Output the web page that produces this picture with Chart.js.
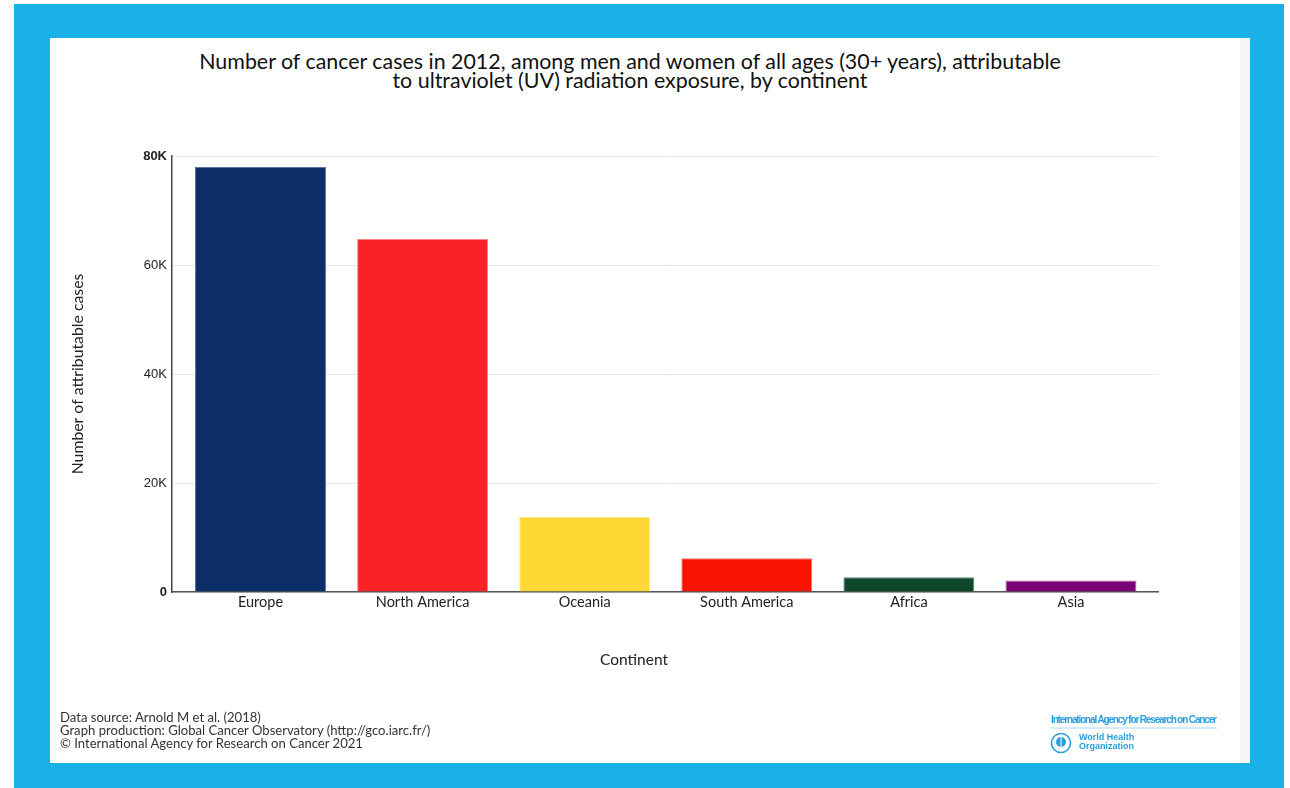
<!DOCTYPE html>
<html>
<head>
<meta charset="utf-8">
<script src="https://cdn.jsdelivr.net/npm/chart.js@4.4.0/dist/chart.umd.min.js"></script>
<style>
  body { margin: 0; width: 1290px; height: 788px; background: #fff; position: relative; overflow: hidden; font-family: Lato, "Noto Sans", sans-serif; color: #222; }
  #frame { position: absolute; left: 14px; top: 4px; width: 1270px; height: 784px; background: #19b1e6; }
  #panel { position: absolute; left: 50px; top: 38px; width: 1190px; height: 725px; background: #fff; }
  #strip { position: absolute; left: 1240px; top: 38px; width: 10px; height: 725px; background: #f5f6f8; }
  #title { position: absolute; left: 50px; top: 52px; width: 1160px; text-align: center; font-size: 21.4px; line-height: 19px; color: #111; }
  #chartBox { position: absolute; left: 50px; top: 38px; width: 1190px; height: 725px; }
  #xTitle { position: absolute; left: 534px; width: 200px; top: 650px; text-align: center; font-size: 15.5px; color: #222; }
  #footer { position: absolute; left: 60px; top: 711px; font-size: 13.1px; line-height: 13px; color: #333; }
  #logo { position: absolute; left: 1046px; top: 711px; filter: blur(0.4px); }
</style>
</head>
<body>
<div id="frame"></div>
<div id="panel"></div>
<div id="strip"></div>
<div id="title">Number of cancer cases in 2012, among men and women of all ages (30+ years), attributable<br>to ultraviolet (UV) radiation exposure, by continent</div>
<div id="chartBox"><canvas id="chart"></canvas></div>
<div id="xTitle">Continent</div>
<div id="footer">Data source: Arnold M et al. (2018)<br>Graph production: Global Cancer Observatory (http://gco.iarc.fr/)<br>© International Agency for Research on Cancer 2021</div>
<svg id="logo" width="180" height="48" viewBox="0 0 180 48">
  <text x="5" y="12" font-family="Liberation Sans Narrow, Liberation Sans, sans-serif" font-size="10" font-weight="bold" fill="#2a9fdc" textLength="166">International Agency for Research on Cancer</text>
  <line x1="5" y1="17" x2="171" y2="17" stroke="#a9d6f2" stroke-width="1"/>
  <circle cx="15" cy="32" r="9.5" fill="none" stroke="#2a9fdc" stroke-width="1.6"/>
  <circle cx="15" cy="31" r="5" fill="#2a9fdc"/>
  <line x1="15" y1="24" x2="15" y2="40" stroke="#fff" stroke-width="1"/>
  <text x="33" y="29" font-family="Liberation Sans Narrow, Liberation Sans, sans-serif" font-size="9" font-weight="bold" fill="#2a9fdc">World Health</text>
  <text x="33" y="38" font-family="Liberation Sans Narrow, Liberation Sans, sans-serif" font-size="9" font-weight="bold" fill="#2a9fdc">Organization</text>
</svg>
<script>
const continents = ["Europe", "North America", "Oceania", "South America", "Africa", "Asia"];
const cases = [78000, 64800, 13800, 6200, 2700, 2100];
const barColors = ["#0b2e66", "#fa2227", "#fed835", "#f81200", "#0f472b", "#790077"];
const edgeColors = ["#5a73a0", "#fb8a8c", "#fee98a", "#fb7a70", "#6a8f78", "#b070ad"];
const yTicks = [0, 20000, 40000, 60000, 80000];

function tickLabel(v) {
  return v === 0 ? "0" : (v / 1000) + "K";
}

// continents sit at x = 0..5 on a numeric axis so the axis can run a little past the outer bars
const points = cases.map((v, i) => ({ x: i, y: v }));

new Chart(document.getElementById("chart"), {
  type: "bar",
  data: {
    datasets: [{
      data: points,
      backgroundColor: barColors,
      borderColor: edgeColors,
      borderWidth: 1,
      categoryPercentage: 0.808,
      barPercentage: 1
    }]
  },
  options: {
    responsive: true,
    maintainAspectRatio: false,
    animation: false,
    layout: { padding: { top: 118, right: 82, bottom: 131, left: 0 } },
    plugins: { legend: { display: false }, tooltip: { enabled: false } },
    scales: {
      x: {
        type: "linear",
        offset: false,
        min: -0.546,
        max: 5.537,
        afterBuildTicks: (scale) => { scale.ticks = continents.map((c, i) => ({ value: i })); },
        grid: { display: false, drawTicks: false },
        border: { color: "#555", width: 1.5 },
        ticks: {
          color: "#222",
          font: { family: "Lato", size: 14.5 },
          padding: 2,
          callback: (v) => continents[v]
        },
        afterFit: (scale) => { scale.height = 40; }
      },
      y: {
        min: 0,
        max: 80000,
        afterBuildTicks: (scale) => { scale.ticks = yTicks.map((v) => ({ value: v })); },
        grid: { color: "#e8e8e8", drawTicks: false },
        border: { color: "#444", width: 1.5 },
        ticks: {
          color: "#222",
          padding: 5,
          callback: tickLabel,
          font: (ctx) => ({
            family: "Liberation Sans",
            size: 13,
            weight: ctx.tick && (ctx.tick.value === 0 || ctx.tick.value === 80000) ? "bold" : "normal"
          })
        },
        title: {
          display: true,
          text: "Number of attributable cases",
          color: "#222",
          font: { family: "Lato", size: 15.8 },
          padding: { top: 18, bottom: 0 }
        },
        afterFit: (scale) => { scale.width = 122; }
      }
    }
  }
});
</script>
</body>
</html>
